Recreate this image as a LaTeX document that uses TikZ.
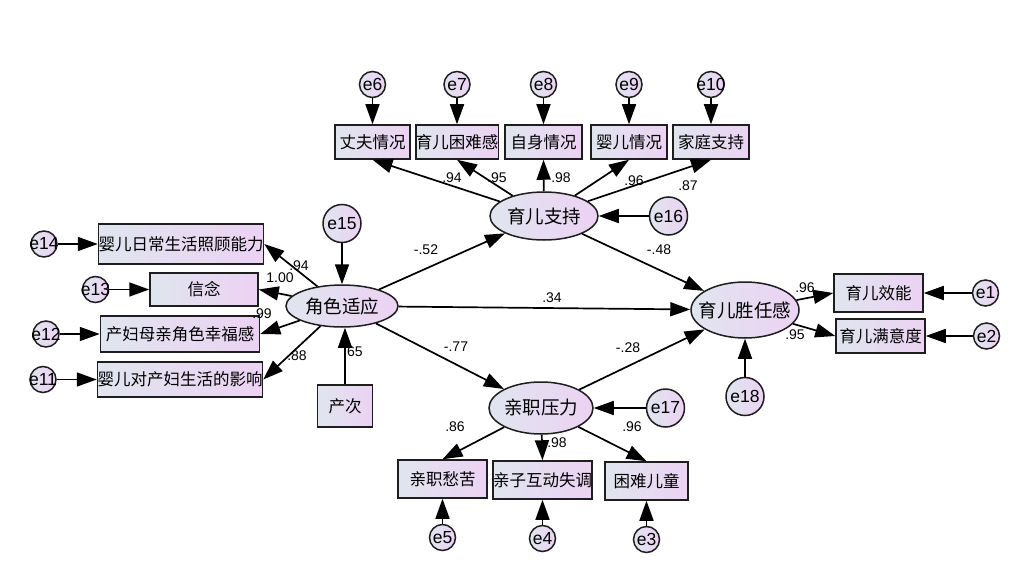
\documentclass[tikz,border=0pt]{standalone}
\usepackage{fontspec}
\setmainfont{Liberation Sans}
\newfontfamily\cjk{Noto Sans CJK SC}
\usetikzlibrary{arrows.meta,positioning,shapes.geometric}
\definecolor{shadeL}{RGB}{224,229,239}
\definecolor{shadeR}{RGB}{236,210,243}
\definecolor{rim}{RGB}{30,30,30}
\newcommand{\zerow}[1]{\makebox[0pt]{#1}}

\begin{document}
\begin{tikzpicture}[
    x=1pt, y=-1pt,
    box/.style={draw=rim, line width=1.5pt, left color=shadeL, right color=shadeR, inner sep=0pt, minimum height=36pt, font=\cjk\fontsize{16.5}{18}\selectfont},
    latent/.style={ellipse, draw=rim, line width=1.5pt, left color=shadeL, right color=shadeR, inner sep=0pt, minimum width=108pt, minimum height=48pt, font=\cjk\fontsize{18.5}{20}\selectfont},
    err/.style={circle, draw=rim, line width=1.5pt, left color=shadeL, right color=shadeR, inner sep=0pt, minimum size=26pt, font=\fontsize{17.5}{19}\selectfont},
    bigerr/.style={err, minimum size=38pt},
    link/.style={-{Triangle[length=20pt,width=14pt]}, line width=1.7pt},
    coef/.style={inner sep=0pt, font=\fontsize{14}{16}\selectfont}
]
\useasboundingbox (0,0) rectangle (1035,575);

% latent variables
\node[latent, minimum width=112pt, minimum height=42pt] (adapt) at (342,306) {\zerow{角色适应}};
\node[latent] (support) at (544,216) {\zerow{育儿支持}};
\node[latent, minimum width=104pt, minimum height=52pt] (stress) at (541,408) {\zerow{亲职压力}};
\node[latent, minimum height=56pt] (compet) at (745,310) {\zerow{育儿胜任感}};

% indicators of 育儿支持
\node[box, minimum width=75pt, minimum height=34pt] (husband) at (372.5,142) {丈夫情况};
\node[box, minimum width=80pt, minimum height=34pt] (hardship) at (457,142) {育儿困难感};
\node[box, minimum width=77pt, minimum height=34pt] (self) at (543.5,142) {自身情况};
\node[box, minimum width=76pt, minimum height=34pt] (infant) at (629,142) {婴儿情况};
\node[box, minimum width=76pt, minimum height=34pt] (family) at (711,142) {家庭支持};
\node[err, above=26pt of husband] (e6) {\zerow{e6}};
\node[err, above=26pt of hardship] (e7) {\zerow{e7}};
\node[err, above=26pt of self] (e8) {\zerow{e8}};
\node[err, above=26pt of infant] (e9) {\zerow{e9}};
\node[err, above=26pt of family] (e10) {\zerow{e10}};

% indicators of 角色适应
\node[box, minimum width=162pt, minimum height=40pt] (care) at (181,244) {婴儿日常生活照顾能力};
\node[box, minimum width=108pt, minimum height=33pt] (belief) at (204,289.5) {信念};
\node[box, minimum width=159pt, minimum height=36pt] (happy) at (180,334) {产妇母亲角色幸福感};
\node[box, minimum width=160pt, minimum height=35pt] (impact) at (180,379.5) {婴儿对产妇生活的影响};
\node[err, left=40pt of care] (e14) {\zerow{e14}};
\node[err, left=40pt of belief] (e13) {\zerow{e13}};
\node[err, left=40pt of happy] (e12) {\zerow{e12}};
\node[err, left=40pt of impact] (e11) {\zerow{e11}};
\node[bigerr, above=41pt of adapt] (e15) {\zerow{e15}};
\node[box, minimum width=55pt, minimum height=42pt] (parity) at (345,406) {产次};

% indicators of 育儿胜任感
\node[box, minimum width=89pt, minimum height=38pt] (efficacy) at (878.5,293) {育儿效能};
\node[box, minimum width=89pt, minimum height=34pt] (satisf) at (880.5,336) {育儿满意度};
\node[err, right=48pt of efficacy] (e1) {\zerow{e1}};
\node[err, right=47pt of satisf] (e2) {\zerow{e2}};
\node[bigerr, below=38pt of compet] (e18) {\zerow{e18}};

% indicators of 亲职压力
\node[box, minimum width=89pt, minimum height=38pt] (distress) at (442.5,479) {亲职愁苦};
\node[box, minimum width=99pt, minimum height=38pt] (interact) at (542.5,480) {亲子互动失调};
\node[box, minimum width=83pt, minimum height=38pt] (difficult) at (646.5,481) {困难儿童};
\node[err, below=25pt of distress] (e5) {\zerow{e5}};
\node[err, below=25pt of interact] (e4) {\zerow{e4}};
\node[err, below=25pt of difficult] (e3) {\zerow{e3}};

\node[bigerr, right=50pt of support] (e16) {\zerow{e16}};
\node[bigerr, right=52pt of stress] (e17) {\zerow{e17}};

% coefficients
\node[coef] at (452,178) {.94};
\node[coef] at (497,178) {.95};
\node[coef] at (561,178) {.98};
\node[coef] at (634,181) {.96};
\node[coef] at (688,186) {.87};
\node[coef] at (299,266) {.94};
\node[coef] at (280,278) {1.00};
\node[coef] at (262,314) {.99};
\node[coef] at (297,356) {.88};
\node[coef, anchor=west] at (343,352) {.65};
\node[coef] at (426,250) {-.52};
\node[coef] at (552,298) {.34};
\node[coef] at (659,250) {-.48};
\node[coef] at (456,347) {-.77};
\node[coef] at (628,348) {-.28};
\node[coef] at (455,427) {.86};
\node[coef] at (557,443) {.98};
\node[coef] at (632,427) {.96};
\node[coef] at (805,288) {.96};
\node[coef] at (795,335) {.95};

% paths
\draw[link] (e6) -- (husband);
\draw[link] (e7) -- (hardship);
\draw[link] (e8) -- (self);
\draw[link] (e9) -- (infant);
\draw[link] (e10) -- (family);
\draw[link] (support) -- (husband.south);
\draw[link] (support) -- (hardship.south);
\draw[link] (support) -- (self.south);
\draw[link] (support) -- (infant.south);
\draw[link] (support) -- (family.south);
\draw[link] (e16) -- (support);

\draw[link] (e14) -- (care);
\draw[link] (e13) -- (belief);
\draw[link] (e12) -- (happy);
\draw[link] (e11) -- (impact);
\draw[link] (adapt) -- (care.east);
\draw[link] (adapt) -- (belief.east);
\draw[link] (adapt) -- (happy.east);
\draw[link] (adapt) -- (impact.east);
\draw[link] (e15) -- (e15 |- adapt.north);
\draw[link] (parity) -- (parity |- adapt.south);

\draw[link] (adapt) -- (support);
\draw[link] (adapt) -- (compet);
\draw[link] (adapt) -- (stress);
\draw[link] (support) -- (compet);
\draw[link] (stress) -- (compet);

\draw[link] (compet) -- (efficacy.west);
\draw[link] (compet) -- (satisf.west);
\draw[link] (e1) -- (efficacy);
\draw[link] (e2) -- (satisf);
\draw[link] (e18) -- (compet);

\draw[link] (stress) -- (distress.north);
\draw[link] (stress) -- (interact.north);
\draw[link] (stress) -- (difficult.north);
\draw[link] (e5) -- (distress);
\draw[link] (e4) -- (interact);
\draw[link] (e3) -- (difficult);
\draw[link] (e17) -- (stress);
\end{tikzpicture}
\end{document}
